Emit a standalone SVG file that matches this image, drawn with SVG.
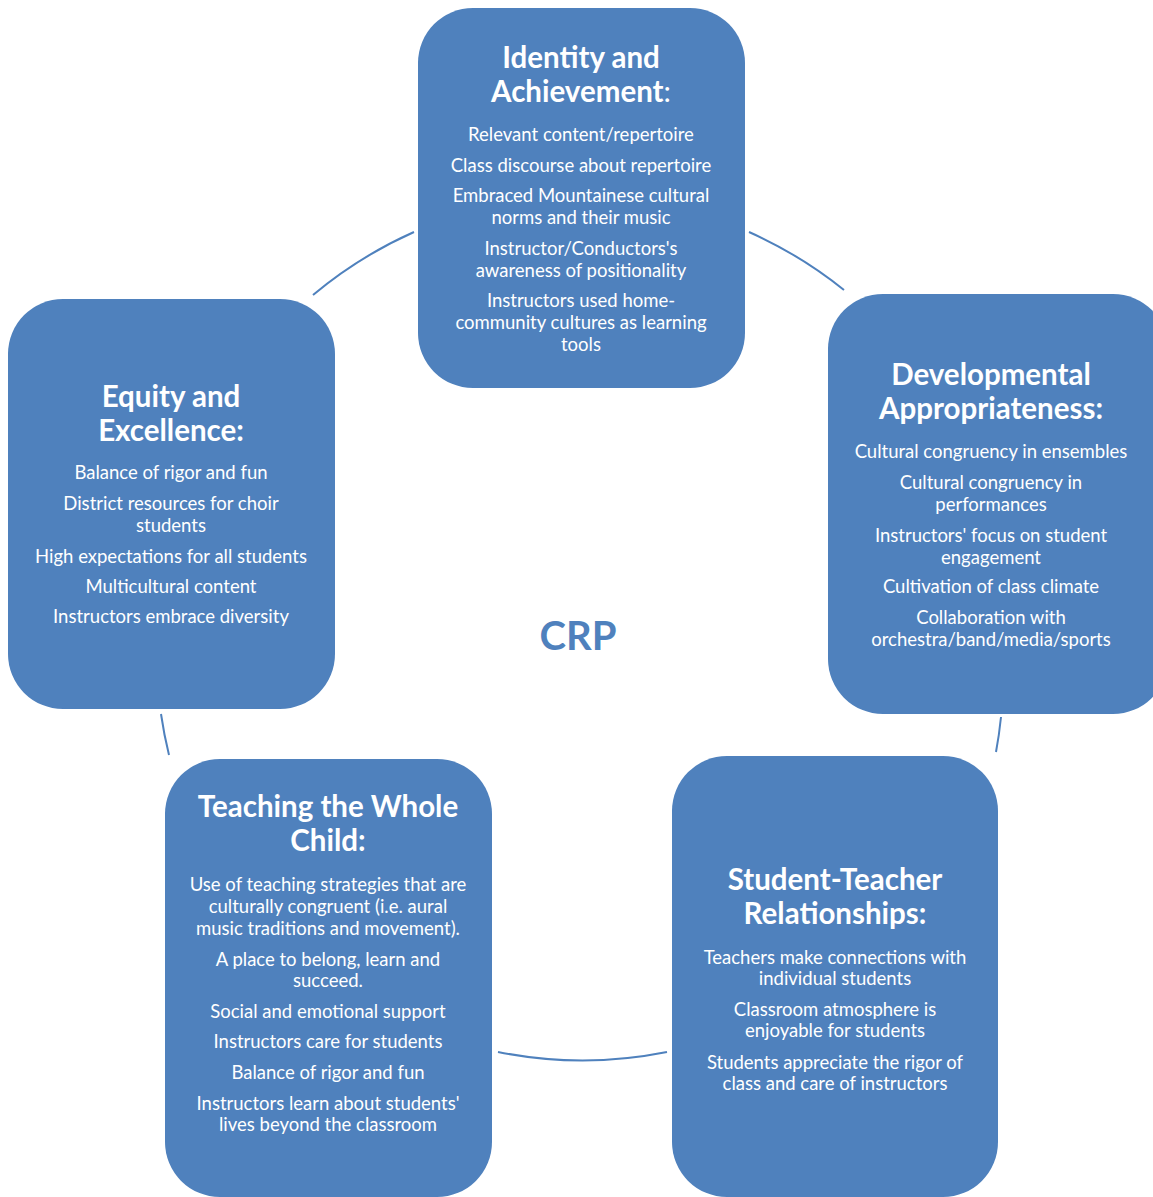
<svg xmlns="http://www.w3.org/2000/svg" width="1153" height="1197" viewBox="0 0 1153 1197">
  <style>
    .box { fill: #4F81BD; }
    .ttl { font-family: Lato, "Liberation Sans", sans-serif; font-weight: bold; font-size: 29.5px; fill: #FFFFFF; text-anchor: middle; }
    .txt { font-family: Lato, "Liberation Sans", sans-serif; font-size: 18.5px; fill: #FFFFFF; text-anchor: middle; }
    .arc { fill: none; stroke: #4F81BD; stroke-width: 2; }
    .crp { font-family: Lato, "Liberation Sans", sans-serif; font-weight: bold; font-size: 40px; fill: #4F81BD; text-anchor: middle; }
  </style>

  <!-- ring connectors (all segments of one circle) -->
  <g id="connectors">
    <path class="arc" d="M313,295 A430,430 0 0 1 414,232"/>
    <path class="arc" d="M749,232 A430,430 0 0 1 844,290"/>
    <path class="arc" d="M1001,717 A430,430 0 0 1 996,752"/>
    <path class="arc" d="M667,1052 A430,430 0 0 1 498,1052"/>
    <path class="arc" d="M169,755 A430,430 0 0 1 161,714"/>
  </g>

  <text id="center" class="crp" x="578" y="650">CRP</text>

  <g transform="translate(0,1)">
  <g id="identity">
    <rect class="box" x="418" y="7" width="327" height="380" rx="55"/>
    <text class="ttl" x="581" y="67">Identity and</text>
    <text class="ttl" x="581" y="101">Achievement<tspan font-weight="normal">:</tspan></text>
    <text class="txt" x="581" y="140">Relevant content/repertoire</text>
    <text class="txt" x="581" y="171">Class discourse about repertoire</text>
    <text class="txt" x="581" y="201">Embraced Mountainese cultural</text>
    <text class="txt" x="581" y="223">norms and their music</text>
    <text class="txt" x="581" y="254">Instructor/Conductors's</text>
    <text class="txt" x="581" y="276">awareness of positionality</text>
    <text class="txt" x="581" y="306">Instructors used home-</text>
    <text class="txt" x="581" y="328">community cultures as learning</text>
    <text class="txt" x="581" y="350">tools</text>
  </g>

  <g id="developmental">
    <rect class="box" x="828" y="293" width="340" height="420" rx="55"/>
    <text class="ttl" x="991" y="384">Developmental</text>
    <text class="ttl" x="991" y="418">Appropriateness:</text>
    <text class="txt" x="991" y="457">Cultural congruency in ensembles</text>
    <text class="txt" x="991" y="488">Cultural congruency in</text>
    <text class="txt" x="991" y="510">performances</text>
    <text class="txt" x="991" y="541">Instructors' focus on student</text>
    <text class="txt" x="991" y="563">engagement</text>
    <text class="txt" x="991" y="592">Cultivation of class climate</text>
    <text class="txt" x="991" y="623">Collaboration with</text>
    <text class="txt" x="991" y="645">orchestra/band/media/sports</text>
  </g>

  <g id="student-teacher">
    <rect class="box" x="672" y="755" width="326" height="441" rx="55"/>
    <text class="ttl" x="835" y="889">Student-Teacher</text>
    <text class="ttl" x="835" y="923">Relationships:</text>
    <text class="txt" x="835" y="963">Teachers make connections with</text>
    <text class="txt" x="835" y="984">individual students</text>
    <text class="txt" x="835" y="1015">Classroom atmosphere is</text>
    <text class="txt" x="835" y="1036">enjoyable for students</text>
    <text class="txt" x="835" y="1068">Students appreciate the rigor of</text>
    <text class="txt" x="835" y="1089">class and care of instructors</text>
  </g>

  <g id="whole-child">
    <rect class="box" x="165" y="758" width="327" height="438" rx="55"/>
    <text class="ttl" x="328" y="816">Teaching the Whole</text>
    <text class="ttl" x="328" y="850">Child:</text>
    <text class="txt" x="328" y="890">Use of teaching strategies that are</text>
    <text class="txt" x="328" y="912">culturally congruent (i.e. aural</text>
    <text class="txt" x="328" y="934">music traditions and movement).</text>
    <text class="txt" x="328" y="965">A place to belong, learn and</text>
    <text class="txt" x="328" y="986">succeed.</text>
    <text class="txt" x="328" y="1017">Social and emotional support</text>
    <text class="txt" x="328" y="1047">Instructors care for students</text>
    <text class="txt" x="328" y="1078">Balance of rigor and fun</text>
    <text class="txt" x="328" y="1109">Instructors learn about students'</text>
    <text class="txt" x="328" y="1130">lives beyond the classroom</text>
  </g>

  <g id="equity">
    <rect class="box" x="8" y="298" width="327" height="410" rx="55"/>
    <text class="ttl" x="171" y="406">Equity and</text>
    <text class="ttl" x="171" y="440">Excellence:</text>
    <text class="txt" x="171" y="478">Balance of rigor and fun</text>
    <text class="txt" x="171" y="509">District resources for choir</text>
    <text class="txt" x="171" y="531">students</text>
    <text class="txt" x="171" y="562">High expectations for all students</text>
    <text class="txt" x="171" y="592">Multicultural content</text>
    <text class="txt" x="171" y="622">Instructors embrace diversity</text>
  </g>
  </g>
</svg>
